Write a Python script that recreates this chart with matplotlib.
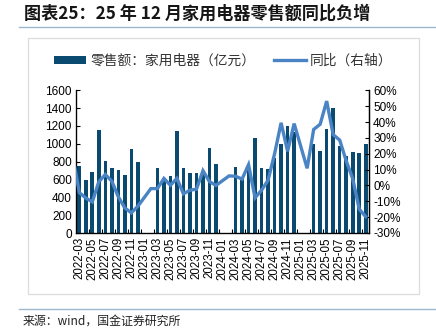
import numpy as np
import matplotlib
matplotlib.use("Agg")
import matplotlib.pyplot as plt
from matplotlib.patches import Rectangle, Patch
from matplotlib.lines import Line2D
from matplotlib.ticker import FuncFormatter, FixedLocator

plt.rcParams['font.family'] = ['Liberation Sans', 'Noto Sans CJK SC', 'DejaVu Sans']

# Months 2022-02 .. 2025-11
months = []
for y in range(2022, 2026):
    for m in range(1, 13):
        if (y == 2022 and m < 2) or (y == 2025 and m > 11):
            continue
        months.append(f"{y}-{m:02d}")

nan = np.nan
# 零售额：家用电器（亿元）
sales = [nan,
         752, 593, 680, 1156, 808, 727, 709, 648, 940, 795,
         nan, nan, 727, 618, 644, 1141, 727, 671, 671, 698, 948, 773,
         nan, nan, 738, 625, 730, 1068, 731, 719, 843, 993, 1203, 1135,
         nan, nan, 1000, 918, 1169, 1405, 978, 866, 907, 892, 1000]
# 同比（右轴）, %
yoy = [19.0,
       -4.5, -7.9, -10.4, 2.3, 6.9, 2.7, -7.2, -14.2, -17.3, -13.1,
       nan, -2.0, -2.0, 4.4, 0.1, 4.5, -5.3, -3.0, -2.4, 9.3, 2.4, 0.0,
       nan, 6.0, 5.8, 4.0, 13.1, -7.8, -3.0, 3.3, 20.0, 39.5, 21.5, 39.0,
       nan, 10.8, 35.3, 38.6, 53.2, 32.0, 28.6, 15.5, 4.2, -15.0, -19.7]

title = "图表25：25 年 12 月家用电器零售额同比负增"
bar_label = "零售额：家用电器（亿元）"
line_label = "同比（右轴）"
source = "来源：wind，国金证券研究所"

bar_color = "#0a4a70"
line_color = "#4a84c4"

fig = plt.figure(figsize=(4.36, 3.28), dpi=100)

# title and rules
fig.text(24/436, 1-13.5/328, title, fontsize=12.3, fontweight='bold',
         family=['Noto Sans CJK SC', 'DejaVu Sans'], color='#151515', va='center', ha='left')
fig.add_artist(Line2D([19/436, 1.0], [1-26.7/328]*2, color='#9bb8cc', lw=1.0))
fig.add_artist(Line2D([19/436, 1.0], [1-309/328]*2, color='#9bb8cc', lw=1.0))
fig.add_artist(Rectangle((27.5/436, 1-294.3/328), (419-27.5)/436, (294.3-38)/328,
                         fill=False, edgecolor='#dcdcdc', lw=0.9))
fig.text(22.5/436, 1-321.5/328, source, fontsize=8.6,
         family=['Noto Sans CJK SC', 'DejaVu Sans'], color='#222222', va='center', ha='left')

ax = fig.add_axes([76/436, 1-233/328, (369-76)/436, (233-90.3)/328])
x = np.arange(len(months))
s = np.array(sales, dtype=float)
ax.bar(x, s, width=0.55, color=bar_color, zorder=2)
ax.set_xlim(0.5, len(months) - 0.5)
ax.set_ylim(0, 1600)
ax.set_yticks(np.arange(0, 1601, 200))

lab_idx = list(range(1, len(months), 2))
ax.xaxis.set_major_locator(FixedLocator(lab_idx))
ax.set_xticklabels([months[i] for i in lab_idx], rotation=90, fontsize=8.3)
ax.xaxis.set_minor_locator(FixedLocator(np.arange(2.5, len(months) - 0.5, 2)))
ax.tick_params(axis='x', which='major', length=0, pad=3)
ax.tick_params(axis='x', which='minor', length=3, direction='in', width=0.8)
ax.tick_params(axis='y', direction='in', length=3, width=0.8, labelsize=8.5, pad=3)
ax.spines['top'].set_visible(False)
for sp in ['left', 'bottom', 'right']:
    ax.spines[sp].set_linewidth(0.9)

ax2 = ax.twinx()
yv = np.array(yoy, dtype=float)
mask = ~np.isnan(yv)
ax2.plot(x[mask], yv[mask], color=line_color, lw=2.4, solid_joinstyle='miter', zorder=3)
ax2.set_ylim(-30, 60)
ax2.set_yticks(np.arange(-30, 61, 10))
ax2.yaxis.set_major_formatter(FuncFormatter(lambda v, p: f"{int(round(v))}%"))
ax2.tick_params(axis='y', direction='in', length=3, width=0.8, labelsize=8.5, pad=3)
ax2.spines['top'].set_visible(False)
ax2.spines['right'].set_linewidth(0.9)

handles = [Patch(facecolor=bar_color, edgecolor='none'),
           Line2D([], [], color=line_color, lw=2.4)]
fig.legend(handles, [bar_label, line_label], loc='center', bbox_to_anchor=(223.5/436, 1-60.7/328),
           ncol=2, frameon=False, prop={'family': ['Noto Sans CJK SC', 'DejaVu Sans'], 'size': 9.9},
           handlelength=2.3, handleheight=0.5, handletextpad=0.3, columnspacing=1.4,
           labelcolor='#333333')

fig.savefig("out.png", dpi=100)
